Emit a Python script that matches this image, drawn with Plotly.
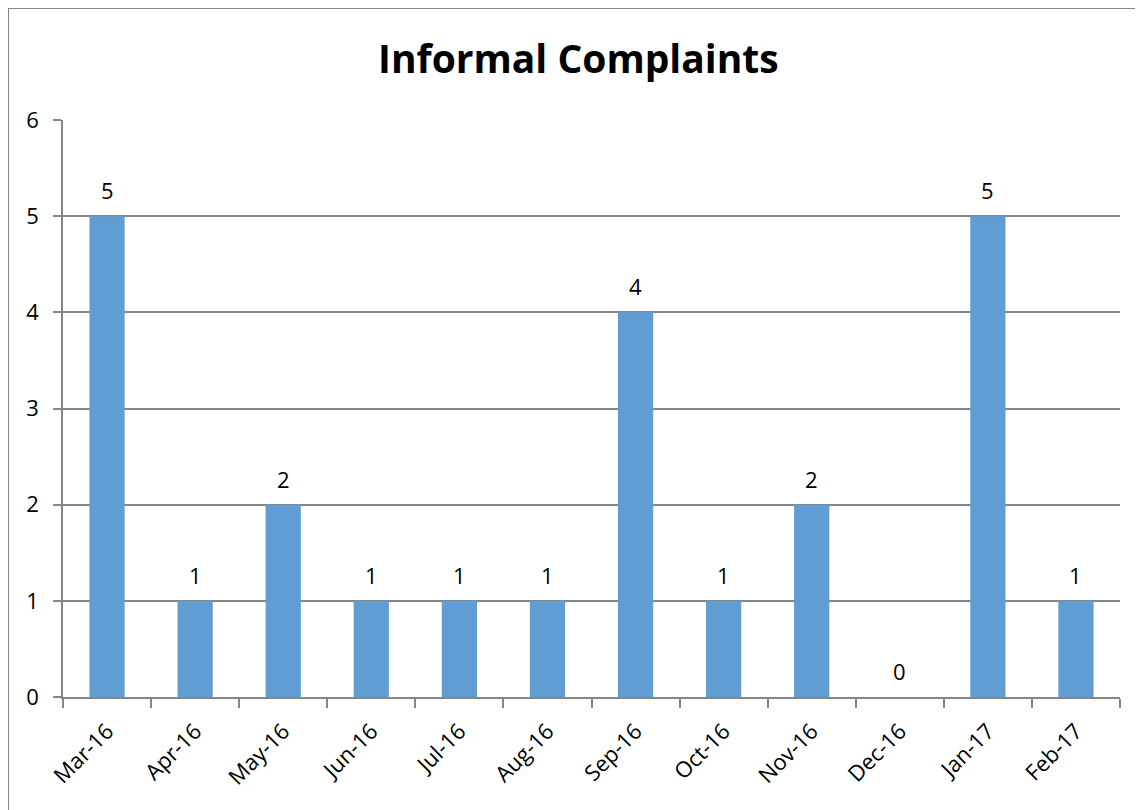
import plotly.graph_objects as go

months = ['Mar-16', 'Apr-16', 'May-16', 'Jun-16', 'Jul-16', 'Aug-16',
          'Sep-16', 'Oct-16', 'Nov-16', 'Dec-16', 'Jan-17', 'Feb-17']
complaints = [5, 1, 2, 1, 1, 1, 4, 1, 2, 0, 5, 1]
y_ticks = [0, 1, 2, 3, 4, 5, 6]

grey = '#868686'
font = 'Open Sans'

fig = go.Figure()
fig.add_trace(go.Bar(
    x=months, y=complaints,
    marker=dict(color='#5F9DD3', line=dict(width=0)),
))

# data labels sit a bit higher than plotly's "outside" text
for m, v in zip(months, complaints):
    fig.add_annotation(x=m, y=v, text=str(v), showarrow=False,
                       yanchor='middle', yshift=26,
                       font=dict(size=22, color='black', family=font))

# page has an 8px body margin, so margins are shifted to compensate
fig.update_layout(
    width=1143, height=810,
    margin=dict(l=55, r=31, t=112, b=121),
    plot_bgcolor='white', paper_bgcolor='white',
    bargap=0.6,
    showlegend=False,
    title=dict(text='<b>Informal Complaints</b>', x=0.499, xanchor='center',
               y=0.936, yanchor='middle',
               font=dict(size=39, color='black', family=font)),
    font=dict(family=font, color='black'),
)

fig.update_xaxes(
    showline=True, linecolor=grey, linewidth=1.5,
    ticks='outside', tickson='boundaries', ticklen=9, tickcolor=grey, tickwidth=1.5,
    tickangle=-45, tickfont=dict(size=22, family=font, color='black'),
    ticklabelstandoff=11,
    showgrid=False,
)
fig.update_yaxes(
    range=[0, 6], tickvals=y_ticks,
    showline=True, linecolor=grey, linewidth=1.5,
    ticks='outside', ticklen=8, tickcolor=grey, tickwidth=1.5,
    showgrid=True, gridcolor=grey, gridwidth=1.5,
    zeroline=False,
    tickfont=dict(size=22, family=font, color='black'),
    ticklabelstandoff=10,
)

# chart border
fig.add_shape(type='rect', xref='paper', yref='paper',
              x0=-0.052, x1=1.06, y0=-0.3, y1=1.194,
              line=dict(color=grey, width=2), layer='below')

fig.write_html('out.html')
